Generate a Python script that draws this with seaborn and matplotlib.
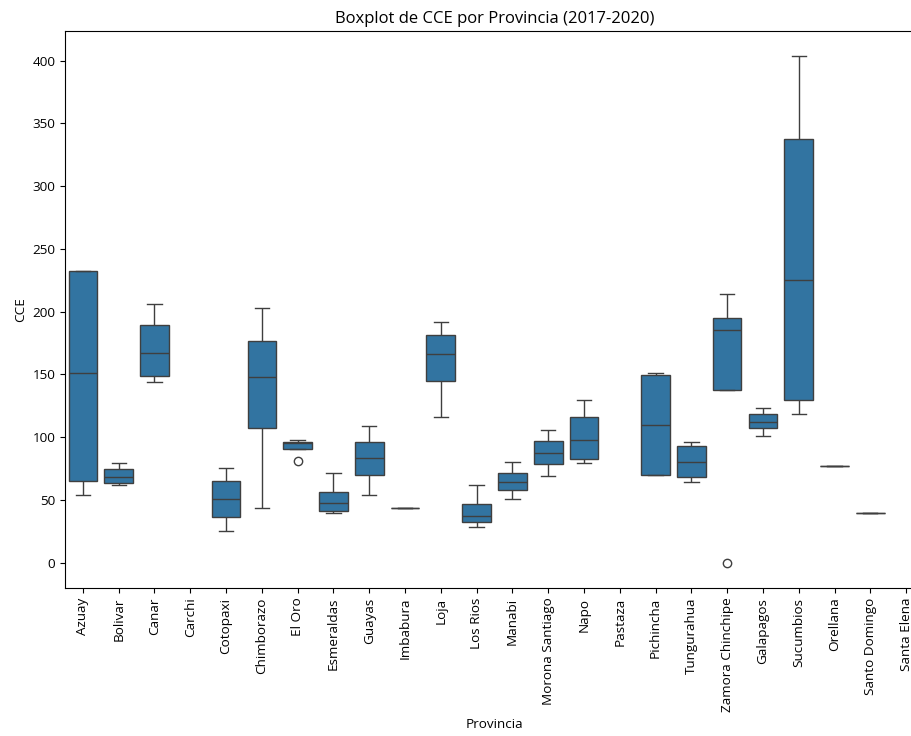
import matplotlib
matplotlib.use("Agg")
import matplotlib.pyplot as plt
import pandas as pd
import seaborn as sns

# Provinces in display order
provincias = [
    "Azuay", "Bolivar", "Canar", "Carchi", "Cotopaxi", "Chimborazo", "El Oro",
    "Esmeraldas", "Guayas", "Imbabura", "Loja", "Los Rios", "Manabi",
    "Morona Santiago", "Napo", "Pastaza", "Pichincha", "Tungurahua",
    "Zamora Chinchipe", "Galapagos", "Sucumbios", "Orellana", "Santo Domingo",
    "Santa Elena",
]

# CCE observations per province, aligned with `provincias`
cce_valores = [
    [53.7, 65.2, 150.9, 232.6, 232.6],     # Azuay
    [62.0, 63.1, 68.1, 74.3, 79.3],        # Bolivar
    [143.7, 148.5, 167.2, 189.5, 206.2],   # Canar
    [],                                    # Carchi
    [25.3, 36.5, 50.8, 65.2, 75.3],        # Cotopaxi
    [43.7, 107.0, 147.7, 176.7, 203.1],    # Chimborazo
    [81.4, 90.2, 95.0, 95.8, 97.7],        # El Oro
    [39.4, 41.5, 47.9, 56.7, 71.3],        # Esmeraldas
    [53.8, 70.0, 83.3, 95.8, 108.8],       # Guayas
    [43.4],                                # Imbabura
    [116.0, 144.8, 166.1, 181.5, 191.6],   # Loja
    [28.2, 32.2, 37.5, 46.6, 62.0],        # Los Rios
    [50.5, 57.7, 64.1, 71.3, 80.1],        # Manabi
    [69.2, 78.5, 87.6, 96.6, 105.9],       # Morona Santiago
    [79.6, 82.5, 97.7, 116.0, 129.6],      # Napo
    [],                                    # Pastaza
    [70.1, 70.1, 109.9, 149.9, 151.0],     # Pichincha
    [64.2, 68.1, 80.4, 92.8, 95.8],        # Tungurahua
    [0.0, 137.6, 185.5, 194.7, 214.3],     # Zamora Chinchipe
    [100.9, 107.1, 112.4, 118.2, 123.3],   # Galapagos
    [118.2, 129.7, 225.5, 337.6, 403.4],   # Sucumbios
    [77.4],                                # Orellana
    [39.3],                                # Santo Domingo
    [],                                    # Santa Elena
]

rows = [
    {"Provincia": prov, "CCE": v}
    for prov, vals in zip(provincias, cce_valores)
    for v in vals
]
df = pd.DataFrame(rows)

plt.rcParams["font.family"] = ["Open Sans", "DejaVu Sans"]
plt.rcParams["font.size"] = 9.7

DPI = 100
fig = plt.figure(figsize=(912 / DPI, 736 / DPI), dpi=DPI)
ax = fig.add_axes([65 / 912, 148 / 736, 859 / 912, 557 / 736])

sns.boxplot(data=df, x="Provincia", y="CCE", order=provincias, ax=ax)

ax.set_title("Boxplot de CCE por Provincia (2017-2020)", fontsize=12)
ax.tick_params(axis="x", labelrotation=90)

fig.savefig("out.png", dpi=DPI)
